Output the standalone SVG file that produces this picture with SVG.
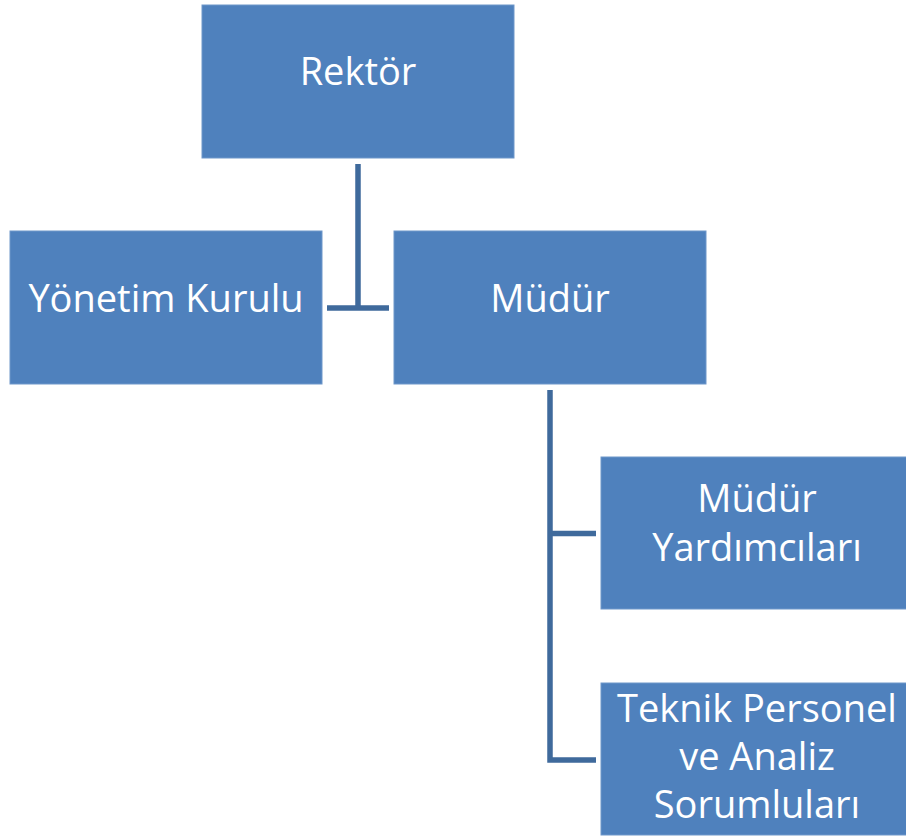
<svg xmlns="http://www.w3.org/2000/svg" width="906" height="839" viewBox="0 0 906 839">
<style>
.box{fill:#4F81BD;stroke:#6F97CA;stroke-width:1}
.t{font-family:"Open Sans","Liberation Sans",sans-serif;font-size:38px;fill:#FFFFFF;text-anchor:middle}
.c{fill:none;stroke:#3F6A9C;stroke-width:5.5}
</style>
<rect width="906" height="839" fill="#FFFFFF"/>
<g id="connectors">
<path class="c" d="M358 164 V308 M327 308 H389"/>
<path class="c" d="M550 390 V760 H596 M550 533.5 H596"/>
</g>
<g id="rektor"><rect class="box" x="202" y="5" width="312" height="153"/><text class="t" x="358" y="85">Rektör</text></g>
<g id="yonetim"><rect class="box" x="10" y="231" width="312" height="153"/><text class="t" x="166" y="312">Yönetim Kurulu</text></g>
<g id="mudur"><rect class="box" x="394" y="231" width="312" height="153"/><text class="t" x="550" y="312">Müdür</text></g>
<g id="yardimci"><rect class="box" x="601" y="457" width="312" height="152"/><text class="t" x="757" y="512">Müdür</text><text class="t" x="757" y="561">Yardımcıları</text></g>
<g id="teknik"><rect class="box" x="601" y="683" width="312" height="152"/><text class="t" x="757" y="722">Teknik Personel</text><text class="t" x="757" y="770">ve Analiz</text><text class="t" x="757" y="818">Sorumluları</text></g>
</svg>
